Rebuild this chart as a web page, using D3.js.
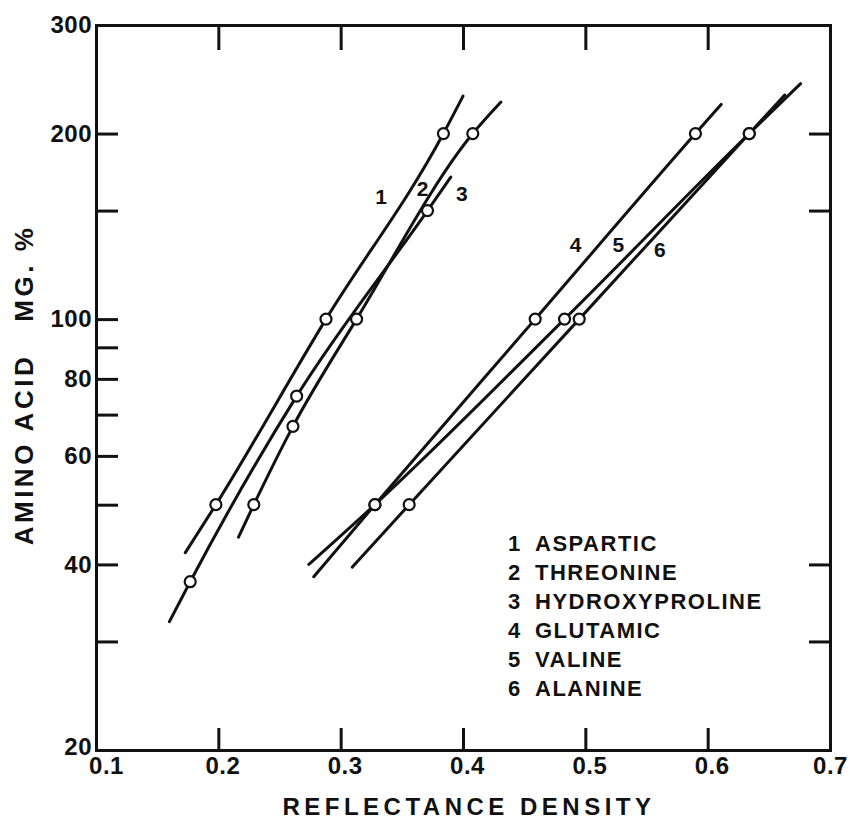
<!DOCTYPE html>
<html>
<head>
<meta charset="utf-8">
<script src="https://cdn.jsdelivr.net/npm/d3@7"></script>
<style>
  body { margin: 0; background: #fff; }
  text { font-family: "Liberation Sans", Arial, sans-serif; font-weight: bold; fill: #111; }
</style>
</head>
<body>
<svg id="chart" width="850" height="820"></svg>
<script>
// Tick values
const densityTicks = [0.1, 0.2, 0.3, 0.4, 0.5, 0.6, 0.7];
const topTicks = [0.2, 0.3, 0.4, 0.5, 0.6];
const amountTicks = [20, 30, 40, 50, 60, 70, 80, 90, 100, 150, 200, 300];
const amountLabels = [20, 40, 60, 80, 100, 200, 300];
const rightTicks = [30, 40, 150, 200];

// Series: legend names and numbers
const seriesNum = ["1", "2", "3", "4", "5", "6"];
const seriesName = ["ASPARTIC", "THREONINE", "HYDROXYPROLINE", "GLUTAMIC", "VALINE", "ALANINE"];

// Measured points (reflectance density, amino acid mg %)
const densAspartic = [0.198, 0.288, 0.384];
const mgAspartic = [50, 100, 200];
const densThreonine = [0.177, 0.264, 0.371];
const mgThreonine = [37.5, 75, 150];
const densHydroxy = [0.229, 0.261, 0.313, 0.408];
const mgHydroxy = [50, 67, 100, 200];
const densGlutamic = [0.328, 0.459, 0.590];
const mgGlutamic = [50, 100, 200];
const densValine = [0.328, 0.483, 0.634];
const mgValine = [50, 100, 200];
const densAlanine = [0.356, 0.495, 0.634];
const mgAlanine = [50, 100, 200];

// Where each drawn line starts and ends (density, mg %)
const lineStart = [[0.173, 41.8], [0.160, 32.3], [0.2165, 44.3], [0.278, 38.2], [0.274, 40], [0.3095, 39.6]];
const lineEnd = [[0.400, 230], [0.390, 170], [0.431, 225], [0.611, 223], [0.676, 241], [0.663, 231]];

// Curve number labels next to the lines
const numLabelAt = [[0.333, 158], [0.367, 163], [0.399, 160], [0.492, 132], [0.527, 132], [0.561, 129.5]];

const dens = [densAspartic, densThreonine, densHydroxy, densGlutamic, densValine, densAlanine];
const mg = [mgAspartic, mgThreonine, mgHydroxy, mgGlutamic, mgValine, mgAlanine];

const svg = d3.select("#chart");
const mLeft = 96, mRight = 830, mTop = 25, mBottom = 750;

const x = d3.scaleLinear().domain([0.1, 0.7]).range([mLeft, mRight]);
const y = d3.scaleLog().domain([20, 300]).range([mBottom, mTop]);

// Axes (ticks pointing inward)
const gLeft = svg.append("g").attr("transform", `translate(${mLeft},0)`)
    .call(d3.axisLeft(y).tickValues(amountTicks).tickSize(-22).tickSizeOuter(0).tickPadding(4)
        .tickFormat(d => amountLabels.includes(d) ? d : ""));
const gBottom = svg.append("g").attr("transform", `translate(0,${mBottom})`)
    .call(d3.axisBottom(x).tickValues(densityTicks).tickSize(-22).tickSizeOuter(0).tickPadding(7)
        .tickFormat(d3.format(".1f")));
const gTop = svg.append("g").attr("transform", `translate(0,${mTop})`)
    .call(d3.axisTop(x).tickValues(topTicks).tickSize(-25).tickSizeOuter(0).tickFormat(""));
const gRight = svg.append("g").attr("transform", `translate(${mRight},0)`)
    .call(d3.axisRight(y).tickValues(rightTicks).tickSize(-21).tickSizeOuter(0).tickFormat(""));

[gLeft, gBottom, gTop, gRight].forEach(g => {
    g.select(".domain").attr("stroke", "#111").attr("stroke-width", 3).attr("stroke-linecap", "square");
    g.selectAll(".tick line").attr("stroke", "#111").attr("stroke-width", 3);
    g.selectAll(".tick text").attr("font-size", 24).attr("fill", "#111")
        .attr("letter-spacing", 0.5)
        .attr("font-family", "'Liberation Sans', Arial, sans-serif").attr("font-weight", "bold");
});
gBottom.selectAll(".tick text").attr("dx", d => d === 0.1 ? 10 : (d === 0.7 ? 0 : 4));
gLeft.selectAll(".tick text").filter(d => d === 20).attr("dy", "0.2em");
// corner ticks coincide with the frame
gBottom.selectAll(".tick line").filter(d => d === 0.1 || d === 0.7).remove();
gLeft.selectAll(".tick line").filter(d => d === 20 || d === 300).remove();

// Lines
const line = d3.line()
    .x(d => x(d[0]))
    .y(d => y(d[1]))
    .curve(d3.curveMonotoneX);

dens.forEach((ds, i) => {
    const pts = [lineStart[i]].concat(ds.map((d, j) => [d, mg[i][j]]), [lineEnd[i]]);
    svg.append("path")
        .datum(pts)
        .attr("d", line)
        .attr("fill", "none")
        .attr("stroke", "#111")
        .attr("stroke-width", 3)
        .attr("stroke-linecap", "round");
});

// Open circles on the measured points
dens.forEach((ds, i) => {
    svg.append("g").selectAll("circle")
        .data(ds.map((d, j) => [d, mg[i][j]]))
        .enter()
        .append("circle")
        .attr("cx", d => x(d[0]))
        .attr("cy", d => y(d[1]))
        .attr("r", 5.5)
        .attr("fill", "#fff")
        .attr("stroke", "#111")
        .attr("stroke-width", 2.2);
});

// Curve numbers
svg.append("g").selectAll("text")
    .data(numLabelAt)
    .enter()
    .append("text")
    .attr("x", d => x(d[0]))
    .attr("y", d => y(d[1]))
    .attr("dy", "0.35em")
    .attr("text-anchor", "middle")
    .attr("font-size", 21)
    .text((d, i) => seriesNum[i]);

// Legend
const legend = svg.append("g");
seriesName.forEach((name, i) => {
    const t = legend.append("text")
        .attr("y", 551 + i * 29)
        .attr("font-size", 22)
        .attr("letter-spacing", 1.5);
    t.append("tspan").attr("x", 508).text(seriesNum[i]);
    t.append("tspan").attr("x", 535).text(name);
});

// Axis titles
svg.append("text")
    .attr("x", 469)
    .attr("y", 815)
    .attr("text-anchor", "middle")
    .attr("font-size", 24)
    .attr("letter-spacing", 4.5)
    .text("REFLECTANCE DENSITY");

svg.append("text")
    .attr("transform", "translate(33,385) rotate(-90)")
    .attr("text-anchor", "middle")
    .attr("font-size", 26)
    .attr("letter-spacing", 3.5)
    .style("white-space", "pre")
    .text("AMINO ACID   MG. %");
</script>
</body>
</html>
